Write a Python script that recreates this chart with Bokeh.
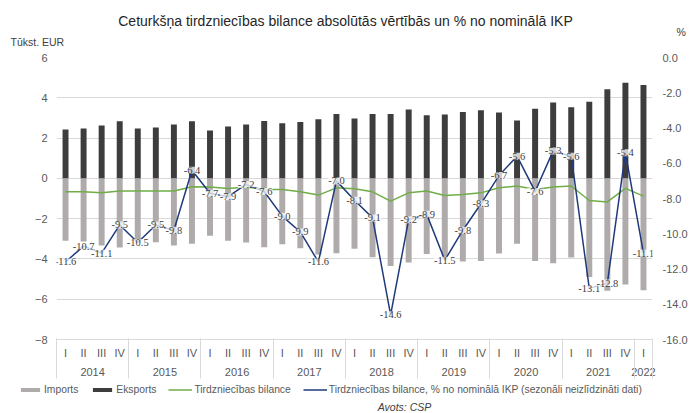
from bokeh.plotting import figure
from bokeh.layouts import column
from bokeh.models import (Range1d, LinearAxis, FixedTicker, ColumnDataSource, LabelSet,
                          Label, Legend, LegendItem, NumeralTickFormatter)
from bokeh.embed import file_html
from bokeh.resources import INLINE

years = ["2014", "2015", "2016", "2017", "2018", "2019", "2020", "2021", "2022"]
quarters = ["I", "II", "III", "IV"] * 8 + ["I"]

eksports = [2.43, 2.47, 2.63, 2.83, 2.47, 2.53, 2.67, 2.83, 2.38, 2.57, 2.67, 2.85,
            2.73, 2.80, 2.93, 3.20, 2.97, 3.20, 3.20, 3.42, 3.13, 3.17, 3.30, 3.38,
            3.27, 2.87, 3.45, 3.77, 3.53, 3.80, 4.42, 4.75, 4.63]
imports = [-3.10, -3.13, -3.33, -3.43, -3.10, -3.17, -3.33, -3.25, -2.85, -3.10, -3.18, -3.42,
           -3.27, -3.47, -3.78, -3.72, -3.50, -3.92, -4.35, -4.18, -3.75, -4.03, -4.13, -4.10,
           -3.73, -3.25, -4.10, -4.22, -3.93, -4.90, -5.58, -5.27, -5.55]
bilance = [-0.67, -0.67, -0.72, -0.63, -0.63, -0.63, -0.63, -0.42, -0.43, -0.50, -0.43, -0.55,
           -0.55, -0.67, -0.83, -0.47, -0.52, -0.67, -1.13, -0.72, -0.63, -0.85, -0.80, -0.72,
           -0.47, -0.38, -0.55, -0.43, -0.38, -1.10, -1.17, -0.50, -0.88]
ikp_pct = [-11.6, -10.7, -11.1, -9.5, -10.5, -9.5, -9.8, -6.4, -7.7, -7.9, -7.2, -7.6,
           -9.0, -9.9, -11.6, -7.0, -8.1, -9.1, -14.6, -9.2, -8.9, -11.5, -9.8, -8.3,
           -6.7, -5.6, -7.6, -5.3, -5.6, -13.1, -12.8, -5.4, -11.1]

left_ticks = [-8, -6, -4, -2, 0, 2, 4, 6]
right_ticks = [-16, -14, -12, -10, -8, -6, -4, -2, 0]

FONT = "Liberation Sans"
TXT = "#595959"
GRID = "#d9d9d9"
C_IMP = "#afabab"
C_EKS = "#3d3d3d"
C_BIL = "#70ad47"
C_PCT = "#1f3a7a"
W = 690

n = len(eksports)
xs = list(range(n))
src = ColumnDataSource(dict(x=xs, eks=eksports, imp=imports, bil=bilance, pct=ikp_pct,
                            lbl=[f"{v:.1f}" for v in ikp_pct]))


def strip(height):
    f = figure(width=W, height=height, output_backend="svg", toolbar_location=None,
               x_range=Range1d(1000, 1001), y_range=Range1d(1000, 1001),
               x_axis_location=None, y_axis_location=None,
               min_border=0, min_border_left=0, min_border_right=0,
               min_border_top=0, min_border_bottom=0)
    f.outline_line_color = None
    f.grid.visible = False
    try:
        f.frame_align = False
    except Exception:
        pass
    return f


# ---------------- header strip ----------------
top = strip(49)
top.add_layout(Label(x=345, y=29, x_units="screen", y_units="screen",
                     text="Ceturkšņa tirdzniecības bilance absolūtās vērtībās un % no nominālā IKP",
                     text_align="center", text_baseline="middle", text_font=FONT,
                     text_font_size="14px", text_color="#262626"))
top.add_layout(Label(x=10, y=8, x_units="screen", y_units="screen", text="Tūkst. EUR",
                     text_align="left", text_baseline="middle", text_font=FONT,
                     text_font_size="10.5px", text_color="#404040"))
top.add_layout(Label(x=676, y=18, x_units="screen", y_units="screen", text="%",
                     text_align="left", text_baseline="middle", text_font=FONT,
                     text_font_size="10.5px", text_color="#404040"))

# ---------------- main chart ----------------
p = figure(width=W, height=332, output_backend="svg", toolbar_location=None,
           x_range=Range1d(-0.5, n - 0.5), y_range=Range1d(-8, 6),
           min_border_left=56, min_border_right=38, min_border_top=8, min_border_bottom=42)
p.extra_y_ranges = {"pct": Range1d(-16, 0)}
p.outline_line_color = None

p.vbar(x="x", top="imp", bottom=0, width=0.33, source=src, fill_color=C_IMP, line_color=None)
p.vbar(x="x", top="eks", bottom=0, width=0.33, source=src, fill_color=C_EKS, line_color=None)
p.line(x="x", y="bil", source=src, line_color=C_BIL, line_width=1.5)
p.line(x="x", y="pct", source=src, y_range_name="pct", line_color=C_PCT, line_width=1.5)

p.add_layout(LabelSet(x="x", y="pct", text="lbl", source=src, y_range_name="pct",
                      text_align="center", text_baseline="middle",
                      text_font=FONT, text_font_size="10.5px", text_color="#404040",
                      background_fill_color="white", background_fill_alpha=0.75))

p.xgrid.visible = False
p.ygrid.ticker = FixedTicker(ticks=left_ticks)
p.ygrid.grid_line_color = GRID


def style_axis(a, standoff):
    a.major_tick_line_color = None
    a.minor_tick_line_color = None
    a.major_tick_out = 0
    a.major_tick_in = 0
    a.major_label_standoff = standoff
    a.major_label_text_font = FONT
    a.major_label_text_font_size = "11px"
    a.major_label_text_color = TXT


ya = p.yaxis[0]
ya.ticker = FixedTicker(ticks=left_ticks)
ya.axis_line_color = None
style_axis(ya, 9)

ra = LinearAxis(y_range_name="pct", ticker=FixedTicker(ticks=right_ticks),
                formatter=NumeralTickFormatter(format="0.0"))
ra.axis_line_color = None
style_axis(ra, 10)
p.add_layout(ra, "right")

xa = p.xaxis[0]
xa.ticker = FixedTicker(ticks=xs)
xa.major_label_overrides = {i: q for i, q in zip(xs, quarters)}
xa.axis_line_color = GRID
style_axis(xa, 7)

year_centers = [1.5 + 4 * k for k in range(8)] + [n - 1]
ax_year = LinearAxis(ticker=FixedTicker(ticks=year_centers))
ax_year.major_label_overrides = {c: y for c, y in zip(year_centers, years)}
ax_year.axis_line_color = None
style_axis(ax_year, 6)
p.add_layout(ax_year, "below")

bounds = [-0.5] + [3.5 + 4 * k for k in range(8)] + [n - 0.5]
ax_sep = LinearAxis(ticker=FixedTicker(ticks=[], minor_ticks=bounds))
ax_sep.axis_line_color = None
ax_sep.major_tick_line_color = None
ax_sep.major_tick_out = 0
ax_sep.major_tick_in = 0
ax_sep.minor_tick_out = 0
ax_sep.minor_tick_in = 40
ax_sep.minor_tick_line_color = GRID
ax_sep.major_label_standoff = 0
ax_sep.major_label_text_font_size = "0px"
p.add_layout(ax_sep, "below")

# ---------------- legend strip ----------------
leg = strip(32)
g_imp = leg.vbar(x="x", top="imp", width=0.33, source=src, fill_color=C_IMP, line_color=None)
g_eks = leg.vbar(x="x", top="eks", width=0.33, source=src, fill_color=C_EKS, line_color=None)
g_bil = leg.line(x="x", y="bil", source=src, line_color=C_BIL, line_width=1.5)
g_pct = leg.line(x="x", y="pct", source=src, line_color=C_PCT, line_width=1.5)

legend = Legend(items=[
    LegendItem(label="Imports", renderers=[g_imp]),
    LegendItem(label="Eksports", renderers=[g_eks]),
    LegendItem(label="Tirdzniecības bilance", renderers=[g_bil]),
    LegendItem(label="Tirdzniecības bilance, % no nominālā IKP (sezonāli neizlīdzināti dati)",
               renderers=[g_pct]),
], orientation="horizontal", location=(18, 17))
legend.glyph_width = 24
legend.glyph_height = 5
legend.label_height = 14
legend.label_standoff = 2
legend.spacing = 12
legend.padding = 0
legend.margin = 0
legend.border_line_color = None
legend.background_fill_alpha = 0
legend.label_text_font = FONT
legend.label_text_font_size = "10.3px"
legend.label_text_color = TXT
leg.add_layout(legend)
leg.add_layout(Label(x=404, y=7, x_units="screen", y_units="screen", text="Avots: CSP",
                     text_align="center", text_baseline="middle", text_font=FONT,
                     text_font_style="italic", text_font_size="10.5px", text_color="#404040"))

layout = column(top, p, leg, spacing=0)
open("out.html", "w").write(file_html(layout, INLINE))
